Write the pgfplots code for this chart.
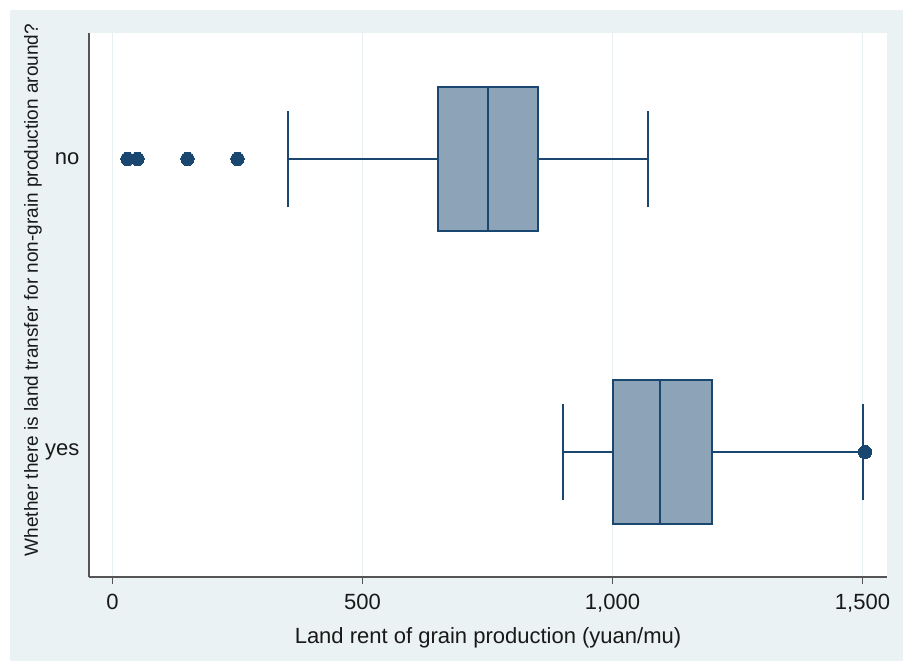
\documentclass[border=0pt]{standalone}
\usepackage{fontspec}
\setmainfont{Liberation Sans}
\usepackage{pgfplots}
\pgfplotsset{compat=1.18}
\usepgfplotslibrary{statistics}
\definecolor{bgc}{RGB}{234,242,243}
\definecolor{navy}{RGB}{26,71,111}
\definecolor{boxfill}{RGB}{140,163,184}
\definecolor{axc}{RGB}{85,85,85}
\definecolor{gridc}{RGB}{232,239,242}
\begin{document}
\begin{tikzpicture}[x=1pt,y=1pt]
\fill[white] (0,0) rectangle (903,661);
\fill[bgc] (10,0) rectangle (903,651);
\begin{axis}[
  at={(89pt,84pt)}, anchor=south west,
  scale only axis, width=798pt, height=544pt,
  xmin=-47, xmax=1549, ymin=-0.4266, ymax=1.43,
  axis background/.style={fill=white},
  axis x line*=bottom, axis y line*=left,
  axis line style={draw=axc, line width=1.3pt},
  xtick={0,500,1000,1500},
  xticklabels={0,500,{1,000},{1,500}},
  ytick={0,1}, yticklabels={yes,no},
  tick align=outside,
  xtick style={draw=axc, line width=1.3pt},
  ytick style={draw=none},
  major tick length=7pt,
  xmajorgrids, grid style={draw=gridc, line width=1.2pt},
  tick label style={font=\fontsize{22}{26}\selectfont, text=black!90},
  xticklabel style={yshift=-7pt},
  yticklabel style={xshift=1pt},
  xlabel={Land rent of grain production (yuan/mu)},
  ylabel={Whether there is land transfer for non-grain production around?},
  every axis x label/.style={at={(axis description cs:0.5,-0.1115)}, anchor=center, font=\fontsize{22}{26}\selectfont, text=black!90},
  every axis y label/.style={at={(axis description cs:-0.0702,0.5276)}, anchor=center, rotate=90, font=\fontsize{19}{23}\selectfont, text=black!90},
  clip=false,
]
\addplot[boxplot prepared={draw position=1, lower whisker=350, lower quartile=650,
  median=750, upper quartile=850, upper whisker=1070,
  box extend=0.49, whisker extend=0.33},
  draw=navy, fill=boxfill, line width=2pt,
  mark=*, mark size=6.7pt, mark options={fill=navy, draw=navy, line width=0pt}]
  table[row sep=\\, y index=0]{data\\ 30\\ 50\\ 150\\ 250\\};
\addplot[boxplot prepared={draw position=0, lower whisker=900, lower quartile=1000,
  median=1094, upper quartile=1198, upper whisker=1500,
  box extend=0.49, whisker extend=0.33},
  draw=navy, fill=boxfill, line width=2pt,
  mark=*, mark size=6.7pt, mark options={fill=navy, draw=navy, line width=0pt}]
  table[row sep=\\, y index=0]{data\\ 1505\\};
\end{axis}
\end{tikzpicture}
\end{document}
